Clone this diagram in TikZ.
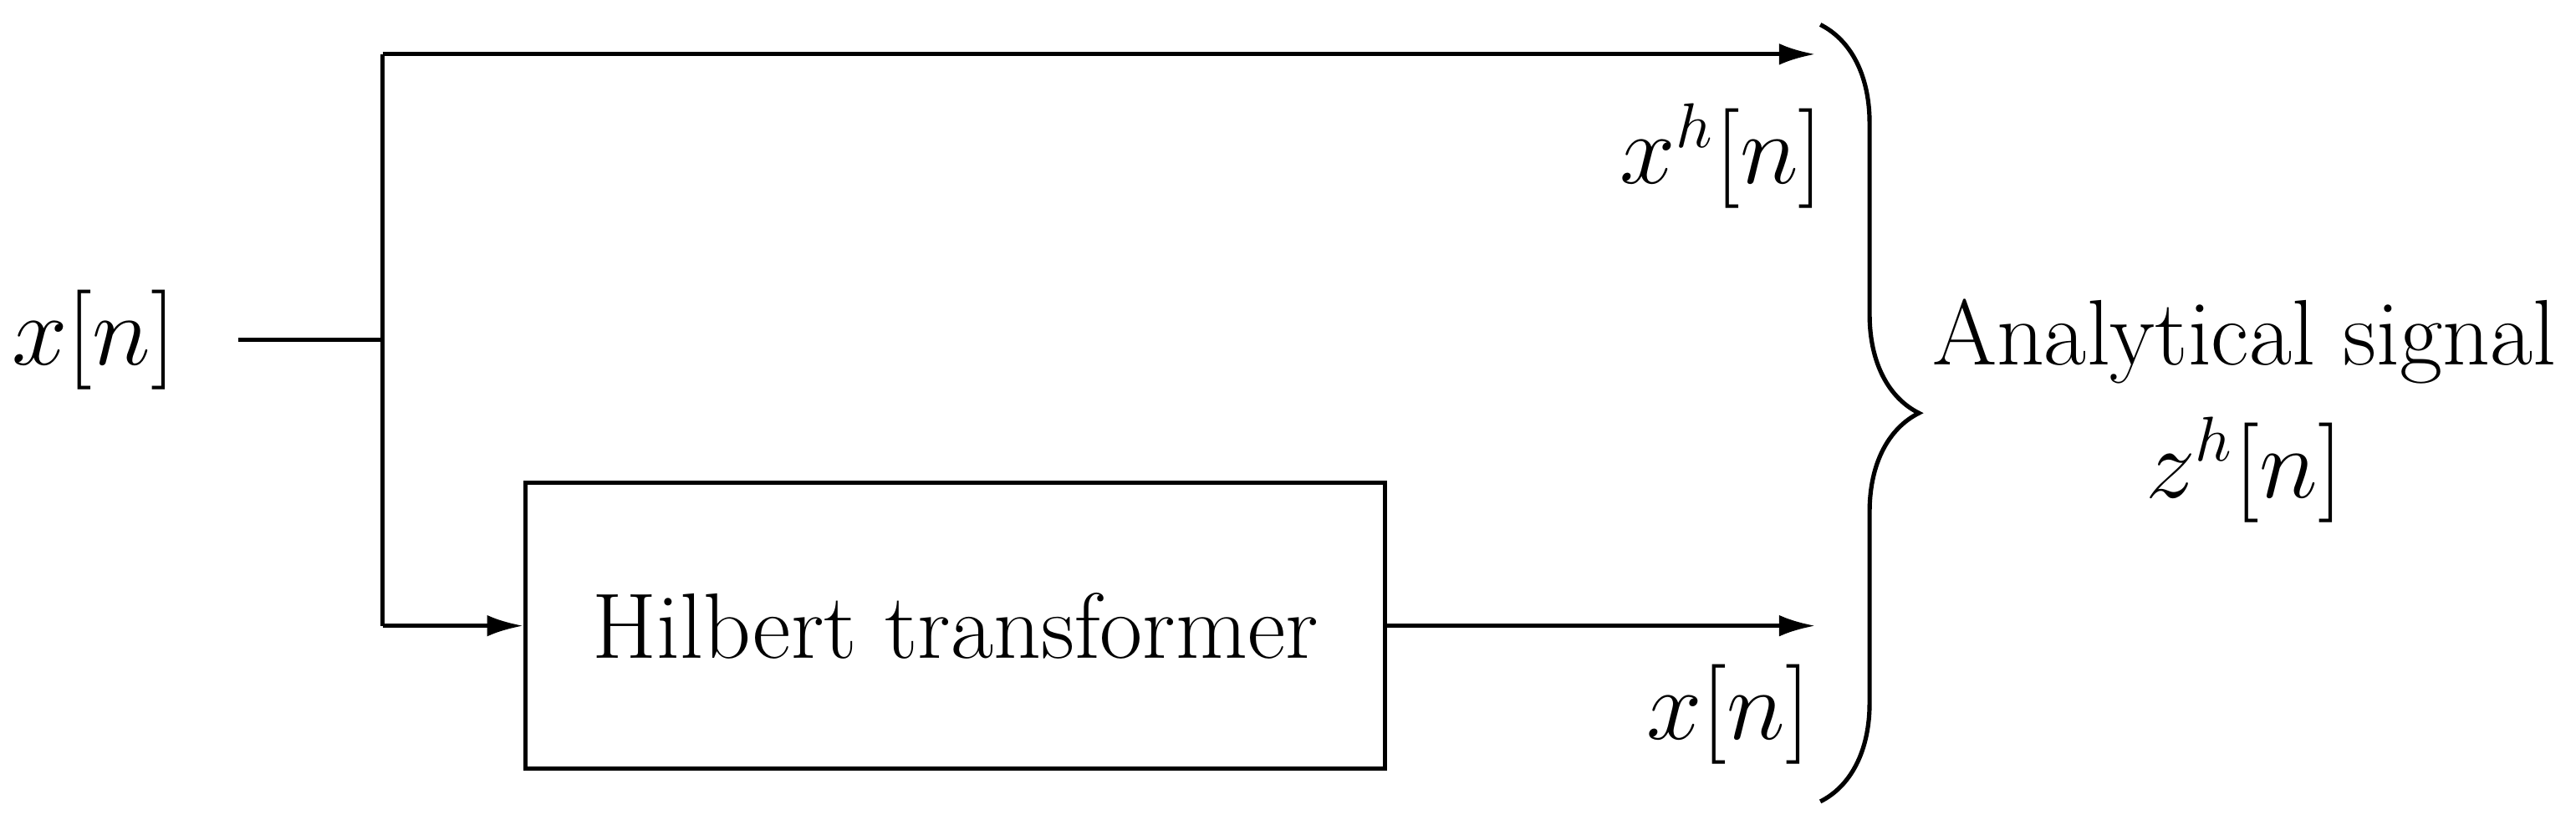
\documentclass[tikz,border=0pt]{standalone}
\usetikzlibrary{arrows.meta,decorations.pathreplacing}
\begin{document}
\begin{tikzpicture}[x=0.01cm,y=-0.01cm,
  wire/.style={line width=0.75pt},
  arr/.style={wire,-{Latex[length=0.22cm,width=0.13cm]}},
  lbl/.style={font=\fontsize{16.1}{19}\selectfont,inner sep=0pt}]
\useasboundingbox (0,0) rectangle (1568,502);
\node[lbl] (xin) at (57,207) {$x[n]$};
\coordinate (s) at (145,207);
\coordinate (j) at (233,207);
\coordinate (jt) at (233,33);
\coordinate (jb) at (233,381);
\node[draw,wire,minimum width=5.23cm,minimum height=1.74cm,lbl] (h) at (581.5,381) {Hilbert transformer};
\coordinate (t1) at (1105,33);
\coordinate (t2) at (1105,381);
\draw[wire] (s) -- (j);
\draw[wire] (jt) -- (jb);
\draw[arr] (jt) -- (t1);
\draw[arr] (jb) -- (h.west);
\draw[arr] (h.east) -- (t2);
\node[lbl] (l1) at (1048,95) {$x^h[n]$};
\node[lbl] (l2) at (1052,435) {$x[n]$};
\coordinate (b1) at (1108,15);
\coordinate (b2) at (1108,488);
\draw[wire,decorate,decoration={brace,amplitude=0.6cm}] (b1) -- (b2);
\node[lbl,align=center] (as) at (1366,250) {Analytical signal\\[4pt]$z^h[n]$};
\end{tikzpicture}
\end{document}
